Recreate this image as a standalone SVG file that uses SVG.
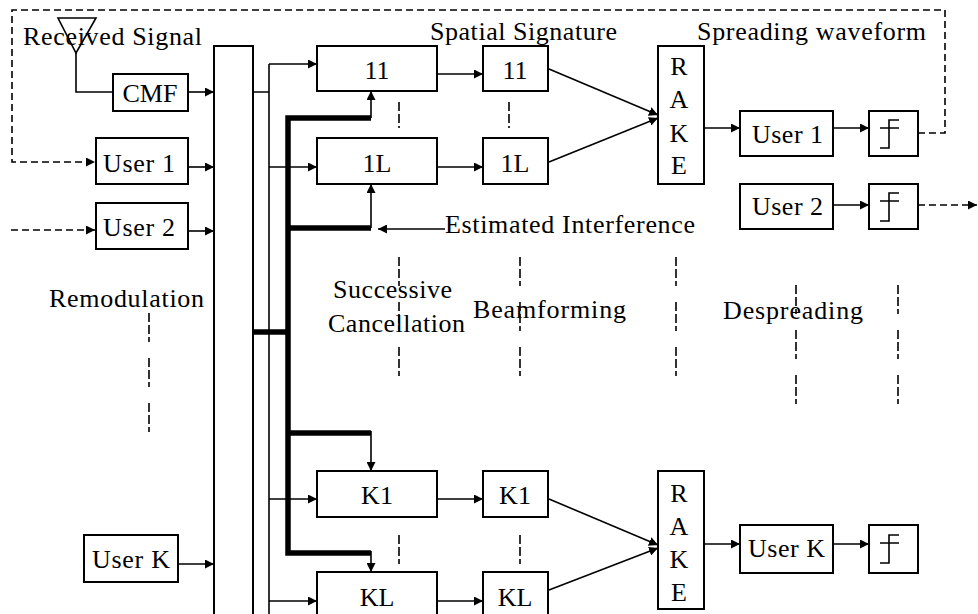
<svg xmlns="http://www.w3.org/2000/svg" width="978" height="614" viewBox="0 0 978 614">
<defs>
<style>
.b{fill:#fff;stroke:#000;stroke-width:2}
.t{font-family:'Liberation Serif','Times New Roman',serif;font-size:26px;fill:#000}
.m{text-anchor:middle}
.l{fill:none;stroke:#000;stroke-width:1.6}
.k{fill:none;stroke:#000;stroke-width:5.5;stroke-linejoin:miter}
.d{fill:none;stroke:#000;stroke-width:1.6;stroke-dasharray:7 4}
.v{fill:none;stroke:#000;stroke-width:1.6;stroke-dasharray:9 3 9 3 5 16}
</style>
<marker id="a" viewBox="0 0 10 10" refX="10" refY="5" markerWidth="9" markerHeight="9" markerUnits="userSpaceOnUse" orient="auto">
<path d="M0,0 L10,5 L0,10 z" fill="#000"/>
</marker>
</defs>
<rect width="978" height="614" fill="#fff"/>

<g id="connectors">
<path class="d" d="M918,133 H945 V10 H12 V162 H95" marker-end="url(#a)"/>
<path class="d" d="M11,230 H95" marker-end="url(#a)"/>
<path class="d" d="M918,205 H977" marker-end="url(#a)"/>
<path class="l" d="M76,53 V92 H113"/>
<path class="l" d="M188,92 H214" marker-end="url(#a)"/>
<path class="l" d="M214,92 H269"/>
<path class="l" d="M188,167 H214" marker-end="url(#a)"/>
<path class="l" d="M188,231 H214" marker-end="url(#a)"/>
<path class="l" d="M178,564 H214" marker-end="url(#a)"/>
<path class="l" d="M269,64 V614"/>
<path class="l" d="M269,64 H317" marker-end="url(#a)"/>
<path class="l" d="M269,167 H317" marker-end="url(#a)"/>
<path class="l" d="M269,499 H317" marker-end="url(#a)"/>
<path class="l" d="M269,601 H317" marker-end="url(#a)"/>
<path class="k" d="M253,332 H288"/>
<path class="k" d="M371,118 H288 V553 H371"/>
<path class="k" d="M288,228 H371"/>
<path class="k" d="M288,433 H371"/>
<path class="l" d="M371,118 V91" marker-end="url(#a)"/>
<path class="l" d="M371,228 V184" marker-end="url(#a)"/>
<path class="l" d="M371,431 V471" marker-end="url(#a)"/>
<path class="l" d="M371,551 V572" marker-end="url(#a)"/>
<path class="l" d="M445,229 H378" marker-end="url(#a)"/>
<path class="l" d="M437,74 H483" marker-end="url(#a)"/>
<path class="l" d="M437,167 H483" marker-end="url(#a)"/>
<path class="l" d="M437,499 H483" marker-end="url(#a)"/>
<path class="l" d="M437,601 H483" marker-end="url(#a)"/>
<path class="l" d="M549,69 L658,115" marker-end="url(#a)"/>
<path class="l" d="M549,162 L658,118" marker-end="url(#a)"/>
<path class="l" d="M549,499 L658,545" marker-end="url(#a)"/>
<path class="l" d="M549,590 L658,548" marker-end="url(#a)"/>
<path class="l" d="M704,128 H740" marker-end="url(#a)"/>
<path class="l" d="M833,128 H869" marker-end="url(#a)"/>
<path class="l" d="M833,205 H869" marker-end="url(#a)"/>
<path class="l" d="M704,544 H740" marker-end="url(#a)"/>
<path class="l" d="M833,544 H869" marker-end="url(#a)"/>
<path class="v" d="M399,102 V128"/>
<path class="v" d="M509,102 V128"/>
<path class="v" d="M399,535 V564"/>
<path class="v" d="M520,535 V564"/>
<path class="v" d="M149,313 V436"/>
<path class="v" d="M399,257 V378"/>
<path class="v" d="M520,257 V378"/>
<path class="v" d="M676,257 V378"/>
<path class="v" d="M796,285 V407"/>
<path class="v" d="M898,285 V407"/>
</g>

<g id="antenna"><path class="l" d="M58,18 H96 L76,53 Z"/></g>
<g id="cmf"><rect class="b" x="113" y="74" width="75" height="37"/><text class="t m" x="150" y="102">CMF</text></g>
<g id="user1-in"><rect class="b" x="96" y="138" width="92" height="46"/><text class="t" x="103" y="172" textLength="72" lengthAdjust="spacing">User 1</text></g>
<g id="user2-in"><rect class="b" x="96" y="203" width="92" height="46"/><text class="t" x="103" y="236" textLength="72" lengthAdjust="spacing">User 2</text></g>
<g id="userK-in"><rect class="b" x="84" y="535" width="94" height="47"/><text class="t" x="92" y="568" textLength="78" lengthAdjust="spacing">User K</text></g>
<g id="remod"><rect class="b" x="214" y="46" width="39" height="580"/></g>

<g id="c11"><rect class="b" x="317" y="46" width="120" height="45"/><text class="t m" x="377" y="79">11</text></g>
<g id="c1L"><rect class="b" x="317" y="138" width="120" height="46"/><text class="t m" x="377" y="172">1L</text></g>
<g id="cK1"><rect class="b" x="317" y="471" width="120" height="46"/><text class="t m" x="377" y="504">K1</text></g>
<g id="cKL"><rect class="b" x="317" y="572" width="120" height="60"/><text class="t m" x="377" y="606">KL</text></g>

<g id="s11"><rect class="b" x="483" y="46" width="65" height="45"/><text class="t m" x="515" y="79">11</text></g>
<g id="s1L"><rect class="b" x="483" y="138" width="65" height="46"/><text class="t m" x="515" y="172">1L</text></g>
<g id="sK1"><rect class="b" x="483" y="471" width="65" height="46"/><text class="t m" x="515" y="504">K1</text></g>
<g id="sKL"><rect class="b" x="483" y="572" width="65" height="60"/><text class="t m" x="515" y="606">KL</text></g>

<g id="rake1"><rect class="b" x="658" y="46" width="46" height="138"/>
<text class="t m" x="679" y="75">R</text><text class="t m" x="679" y="108">A</text><text class="t m" x="679" y="142">K</text><text class="t m" x="679" y="174">E</text></g>
<g id="rakeK"><rect class="b" x="658" y="471" width="46" height="138"/>
<text class="t m" x="679" y="502">R</text><text class="t m" x="679" y="535">A</text><text class="t m" x="679" y="568">K</text><text class="t m" x="679" y="601">E</text></g>

<g id="user1-out"><rect class="b" x="740" y="111" width="93" height="45"/><text class="t" x="752" y="143" textLength="71" lengthAdjust="spacing">User 1</text></g>
<g id="user2-out"><rect class="b" x="740" y="184" width="93" height="45"/><text class="t" x="752" y="215" textLength="71" lengthAdjust="spacing">User 2</text></g>
<g id="userK-out"><rect class="b" x="740" y="525" width="93" height="48"/><text class="t" x="748" y="557" textLength="77" lengthAdjust="spacing">User K</text></g>

<g id="th1"><rect class="b" x="869" y="111" width="49" height="45"/><path class="l" d="M899,120 H889 V148 H880 M880,128 H899"/></g>
<g id="th2"><rect class="b" x="869" y="184" width="49" height="45"/><path class="l" d="M899,193 H889 V221 H880 M880,201 H899"/></g>
<g id="thK"><rect class="b" x="869" y="525" width="49" height="48"/><path class="l" d="M899,535 H889 V563 H880 M880,543 H899"/></g>

<g id="labels">
<text class="t" x="23" y="45" textLength="179" lengthAdjust="spacing">Received Signal</text>
<text class="t" x="430" y="40" textLength="187" lengthAdjust="spacing">Spatial Signature</text>
<text class="t" x="697" y="40" textLength="229" lengthAdjust="spacing">Spreading waveform</text>
<text class="t" x="445" y="233" textLength="250" lengthAdjust="spacing">Estimated Interference</text>
<text class="t" x="49" y="307" textLength="155" lengthAdjust="spacing">Remodulation</text>
<text class="t" x="333" y="298" textLength="119" lengthAdjust="spacing">Successive</text>
<text class="t" x="328" y="332" textLength="137" lengthAdjust="spacing">Cancellation</text>
<text class="t" x="473" y="318" textLength="153" lengthAdjust="spacing">Beamforming</text>
<text class="t" x="723" y="319" textLength="140" lengthAdjust="spacing">Despreading</text>
</g>
</svg>
